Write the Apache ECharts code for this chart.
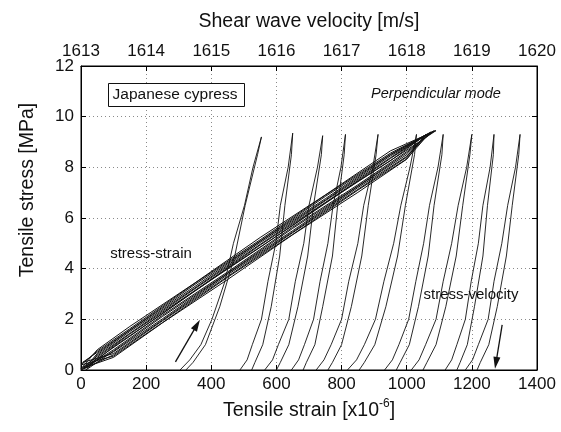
<!DOCTYPE html>
<html>
<head>
<meta charset="utf-8">
<script src="https://cdn.jsdelivr.net/npm/echarts@6/dist/echarts.min.js"></script>
<style>
  html, body { margin: 0; padding: 0; background: #fff; }
  #chart { width: 561px; height: 432px; }
</style>
</head>
<body>
<div id="chart"></div>
<script>
// stress-strain cycles: [strain x10^-6, stress MPa]
const strainCycles = [
  [[0,0],[100,0.6],[250,1.94],[450,3.69],[650,5.42],[850,7.13],[1000,8.4],[1060,9.3],[950,8.38],[750,6.68],[550,4.96],[350,3.21],[150,1.45],[50,0.55],[5,0.1]],
  [[5,0.1],[100,0.72],[250,2.02],[450,3.81],[650,5.5],[850,7.25],[1000,8.5],[1075,9.4],[950,8.5],[750,6.76],[550,5.08],[350,3.3],[150,1.57],[50,0.65],[10,0.05]],
  [[10,0.05],[100,0.8],[250,2.16],[450,3.87],[650,5.64],[850,7.31],[1000,8.62],[1085,9.45],[950,8.56],[750,6.9],[550,5.14],[350,3.43],[150,1.63],[50,0.75],[0,0.2]],
  [[0,0.2],[100,0.55],[250,1.87],[450,3.66],[650,5.35],[850,7.1],[1000,8.33],[1070,9.35],[950,8.35],[750,6.61],[550,4.93],[350,3.14],[150,1.42],[50,0.5],[15,0]],
  [[15,0],[100,0.75],[250,2.11],[450,3.82],[650,5.59],[850,7.26],[1000,8.57],[1080,9.4],[950,8.51],[750,6.85],[550,5.09],[350,3.38],[150,1.58],[50,0.7],[5,0.3]],
  [[5,0.3],[100,0.65],[250,1.97],[450,3.76],[650,5.45],[850,7.2],[1000,8.43],[1065,9.3],[950,8.45],[750,6.71],[550,5.03],[350,3.24],[150,1.52],[50,0.6],[20,0.1]],
  [[20,0.1],[100,0.92],[250,2.22],[450,4.01],[650,5.7],[850,7.45],[1000,8.68],[1090,9.45],[950,8.65],[750,6.91],[550,5.23],[350,3.44],[150,1.72],[50,0.8],[0,0.05]],
  [[0,0.05],[100,0.5],[250,1.86],[450,3.57],[650,5.34],[850,7.01],[1000,8.32],[1055,9.25],[950,8.26],[750,6.6],[550,4.84],[350,3.13],[150,1.33],[50,0.45],[0,0]]
];

// stress-velocity loops: [shear wave velocity m/s, stress MPa]
const velocityLoops = [
  [[1614.52,0],[1614.67,0.4],[1614.84,1],[1615.01,2],[1615.21,3.5],[1615.34,5],[1615.51,6.5],[1615.64,8],[1615.77,9.2],[1615.71,8.5],[1615.52,6.5],[1615.36,4.5],[1615.13,2.5],[1614.91,1],[1614.72,0.3],[1614.61,0]],
  [[1615.44,0],[1615.55,0.4],[1615.63,1],[1615.77,2],[1615.87,3.5],[1615.99,5],[1616.06,6.5],[1616.18,8],[1616.25,9.35],[1616.23,8.5],[1616.13,6.5],[1616.05,4.5],[1615.92,2.5],[1615.79,1],[1615.67,0.3],[1615.62,0]],
  [[1615.82,0],[1615.94,0.4],[1616.03,1],[1616.19,2],[1616.29,3.5],[1616.42,5],[1616.5,6.5],[1616.63,8],[1616.71,9.25],[1616.69,8.5],[1616.57,6.5],[1616.48,4.5],[1616.33,2.5],[1616.19,1],[1616.06,0.3],[1616.0,0]],
  [[1616.23,0],[1616.34,0.4],[1616.43,1],[1616.57,2],[1616.67,3.5],[1616.79,5],[1616.87,6.5],[1616.99,8],[1617.06,9.3],[1617.04,8.5],[1616.94,6.5],[1616.86,4.5],[1616.71,2.5],[1616.59,1],[1616.46,0.3],[1616.41,0]],
  [[1616.61,0],[1616.73,0.4],[1616.84,1],[1617.0,2],[1617.11,3.5],[1617.25,5],[1617.34,6.5],[1617.48,8],[1617.56,9.3],[1617.53,8.5],[1617.41,6.5],[1617.31,4.5],[1617.15,2.5],[1617.0,1],[1616.86,0.3],[1616.79,0]],
  [[1617.09,0],[1617.23,0.4],[1617.35,1],[1617.52,2],[1617.65,3.5],[1617.8,5],[1617.91,6.5],[1618.05,8],[1618.15,9.3],[1618.12,8.5],[1617.98,6.5],[1617.86,4.5],[1617.68,2.5],[1617.51,1],[1617.35,0.3],[1617.27,0]],
  [[1617.66,0],[1617.78,0.4],[1617.88,1],[1618.03,2],[1618.14,3.5],[1618.26,5],[1618.35,6.5],[1618.48,8],[1618.56,9.3],[1618.54,8.5],[1618.42,6.5],[1618.33,4.5],[1618.18,2.5],[1618.04,1],[1617.9,0.3],[1617.84,0]],
  [[1618.07,0],[1618.19,0.4],[1618.29,1],[1618.45,2],[1618.56,3.5],[1618.69,5],[1618.79,6.5],[1618.92,8],[1619.0,9.3],[1618.97,8.5],[1618.86,6.5],[1618.76,4.5],[1618.6,2.5],[1618.45,1],[1618.31,0.3],[1618.25,0]],
  [[1618.59,0],[1618.69,0.4],[1618.77,1],[1618.9,2],[1618.99,3.5],[1619.1,5],[1619.17,6.5],[1619.28,8],[1619.34,9.3],[1619.33,8.5],[1619.24,6.5],[1619.17,4.5],[1619.04,2.5],[1618.93,1],[1618.82,0.3],[1618.77,0]],
  [[1618.9,0],[1619.01,0.4],[1619.1,1],[1619.25,2],[1619.34,3.5],[1619.46,5],[1619.55,6.5],[1619.67,8],[1619.74,9.3],[1619.72,8.5],[1619.62,6.5],[1619.53,4.5],[1619.39,2.5],[1619.26,1],[1619.13,0.3],[1619.08,0]]
];

// direction arrows, strain-axis coordinates
const loadArrow = [[290, 0.32], [356, 1.78]];
const unloadArrow = [[1293, 1.78], [1274, 0.28]];

const FONT = '"Liberation Sans", Arial, sans-serif';
const chart = echarts.init(document.getElementById('chart'), null, { renderer: 'canvas' });

const dotted = { show: true, lineStyle: { color: '#8a8a8a', type: [1, 3], width: 1 } };
const plain = v => String(v);

let series = [];
strainCycles.forEach(c => {
  series.push({
    type: 'line', xAxisIndex: 0, yAxisIndex: 0, data: c,
    symbol: 'none', lineStyle: { color: '#111', width: 1 }, silent: true
  });
});
velocityLoops.forEach(c => {
  series.push({
    type: 'line', xAxisIndex: 1, yAxisIndex: 0, data: c,
    symbol: 'none', lineStyle: { color: '#111', width: 0.9 }, silent: true
  });
});
// arrows
series.push({
  type: 'line', xAxisIndex: 0, yAxisIndex: 0, data: [], silent: true,
  markLine: {
    silent: true, animation: false,
    symbol: ['none', 'triangle'], symbolSize: [7, 12],
    label: { show: false },
    lineStyle: { color: '#111', width: 1.3, type: 'solid' },
    data: [
      [{ coord: loadArrow[0] }, { coord: loadArrow[1] }],
      [{ coord: unloadArrow[0] }, { coord: unloadArrow[1] }]
    ]
  }
});

const option = {
  animation: false,
  backgroundColor: '#fff',
  grid: { left: 81, right: 24, top: 66, bottom: 62, show: true, borderColor: '#000', borderWidth: 1 },
  xAxis: [
    {
      type: 'value', position: 'bottom', min: 0, max: 1400, interval: 200,
      name: 'Tensile strain [x10{sup|-6}]', nameLocation: 'middle', nameGap: 25,
      nameTextStyle: {
        fontFamily: FONT, fontSize: 19.5, color: '#111',
        rich: { sup: { fontFamily: FONT, fontSize: 12, color: '#111', padding: [0, 0, 13, 0] } }
      },
      axisLine: { show: true, onZero: false, lineStyle: { color: '#000', width: 1 } },
      axisTick: { show: true, inside: true, length: 5, lineStyle: { color: '#000' } },
      axisLabel: { fontFamily: FONT, fontSize: 17, color: '#111', margin: 6, formatter: plain },
      splitLine: dotted
    },
    {
      type: 'value', position: 'top', min: 1613, max: 1620, interval: 1,
      name: 'Shear wave velocity [m/s]', nameLocation: 'middle', nameGap: 34,
      nameTextStyle: { fontFamily: FONT, fontSize: 19.5, color: '#111' },
      axisLine: { show: true, onZero: false, lineStyle: { color: '#000', width: 1 } },
      axisTick: { show: true, inside: true, length: 5, lineStyle: { color: '#000' } },
      axisLabel: { fontFamily: FONT, fontSize: 17, color: '#111', margin: 6, formatter: plain },
      splitLine: { show: false }
    }
  ],
  yAxis: [
    {
      type: 'value', position: 'left', min: 0, max: 12, interval: 2,
      axisLine: { show: true, onZero: false, lineStyle: { color: '#000', width: 1 } },
      axisTick: { show: true, inside: true, length: 5, lineStyle: { color: '#000' } },
      axisLabel: { fontFamily: FONT, fontSize: 17, color: '#111', margin: 7, formatter: plain },
      splitLine: dotted
    },
    {
      type: 'value', position: 'right', min: 0, max: 12, interval: 2,
      axisLine: { show: true, onZero: false, lineStyle: { color: '#000', width: 1 } },
      axisTick: { show: true, inside: true, length: 5, lineStyle: { color: '#000' } },
      axisLabel: { show: false },
      splitLine: { show: false }
    }
  ],
  graphic: [
    {
      type: 'text', x: 28, y: 190, rotation: Math.PI / 2, z: 101,
      style: { text: 'Tensile stress [MPa]', font: '19.5px ' + FONT, fill: '#111', align: 'center', verticalAlign: 'middle' }
    },
    {
      type: 'rect', shape: { x: 108.5, y: 83.5, width: 136, height: 23 },
      style: { fill: '#fff', stroke: '#111', lineWidth: 1 }, z: 100
    },
    {
      type: 'text', x: 175, y: 95, z: 101,
      style: { text: 'Japanese cypress', font: '15.5px ' + FONT, fill: '#111', align: 'center', verticalAlign: 'middle' }
    },
    {
      type: 'text', x: 436, y: 94, z: 101,
      style: { text: 'Perpendicular mode', font: 'italic 14.5px ' + FONT, fill: '#111', align: 'center', verticalAlign: 'middle' }
    },
    {
      type: 'text', x: 151, y: 254, z: 101,
      style: { text: 'stress-strain', font: '15px ' + FONT, fill: '#111', align: 'center', verticalAlign: 'middle' }
    },
    {
      type: 'text', x: 471, y: 295, z: 101,
      style: { text: 'stress-velocity', font: '15px ' + FONT, fill: '#111', align: 'center', verticalAlign: 'middle' }
    }
  ],
  series: series
};

chart.setOption(option);
</script>
</body>
</html>
